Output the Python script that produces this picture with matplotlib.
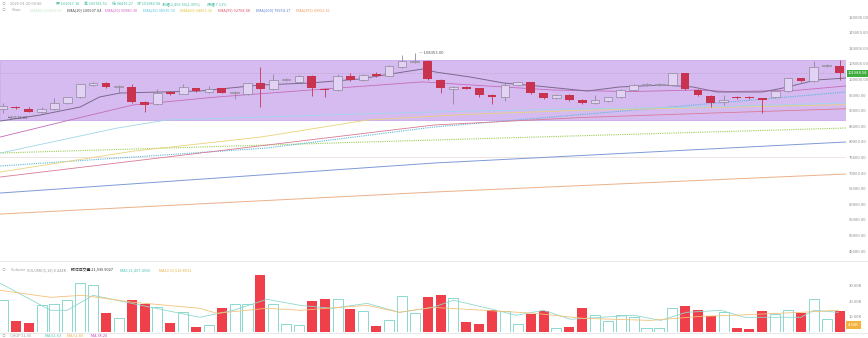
import matplotlib
matplotlib.use("Agg")
import matplotlib.pyplot as plt
from matplotlib.patches import Rectangle
from matplotlib.lines import Line2D

plt.rcParams['font.family'] = ['Noto Sans CJK SC', 'DejaVu Sans']

# Daily candles (66)
opens = [90514, 91250, 90600, 89650, 90400, 92350, 94250, 98200, 98950, 97450,
         97660, 92850, 92020, 95960, 95420, 97150, 96060, 97150, 95550, 95230,
         98760, 96830, 99810, 99070, 101190, 97020, 96600, 101090, 99810, 101630,
         101190, 103880, 105600, 105900, 99810, 96920, 97660, 97150, 95000, 94470,
         98210, 99070, 95550, 93940, 95000, 93400, 92530, 93180, 94260, 96600,
         98210, 98210, 98210, 101950, 96600, 94790, 92870, 94470, 94400, 93940,
         94470, 96380, 100350, 99590, 104290, 104300]
highs = [92437, 91400, 91000, 91060, 94000, 94500, 98600, 99300, 99100, 98200,
         98530, 93000, 96990, 96200, 98530, 97400, 97800, 97400, 96300, 99000,
         104070, 101730, 100500, 101400, 101500, 97300, 101730, 101940, 101600, 102370,
         104700, 107800, 108353, 106200, 100030, 97900, 97900, 97400, 95300, 99270,
         99300, 99300, 95800, 95300, 95300, 93600, 95000, 94500, 96900, 98500,
         98700, 98700, 102200, 102200, 96800, 95000, 95000, 94700, 94600, 94200,
         96600, 100600, 100600, 105800, 104900, 106200]
lows = [89118, 90500, 89400, 89200, 90200, 92100, 94000, 97900, 97300, 95600,
        92500, 89600, 91800, 95100, 95200, 96100, 95800, 95500, 93880, 95000,
        91250, 96600, 99600, 98900, 94680, 94460, 96400, 99600, 99500, 100800,
        101000, 103600, 105300, 99800, 95640, 92120, 96800, 94470, 92120, 93080,
        98000, 95300, 93700, 93700, 93100, 92000, 92200, 92900, 94000, 96300,
        98000, 97900, 98000, 96600, 94800, 91250, 91800, 93800, 93700, 89300,
        94200, 96100, 99300, 99300, 104000, 99810]
closes = [91475, 90750, 89650, 90400, 92350, 94250, 98430, 98950, 97450, 97980,
          92660, 91800, 95740, 95320, 97470, 96380, 97020, 95740, 96060, 98760,
          96830, 99810, 100260, 101190, 97150, 96600, 101090, 99810, 101310, 101090,
          104390, 105990, 105900, 100030, 97340, 97660, 97020, 95000, 94470, 98210,
          99070, 95550, 93940, 95000, 93400, 92340, 93400, 94260, 96600, 98210,
          98430, 98500, 101950, 96830, 95000, 92340, 93400, 94000, 93900, 93400,
          96380, 100350, 99590, 103870, 104600, 101984.58]
# volume in thousands
volumes = [20.9, 6.9, 6.0, 17.7, 18.3, 20.9, 31.9, 30.6, 12.3, 9.1,
           20.9, 18.3, 16.1, 5.8, 12.9, 3.2, 4.3, 15.7, 18.3, 17.9,
           37.0, 18.3, 5.0, 4.8, 20.2, 21.1, 21.5, 15.1, 13.6, 4.1,
           8.0, 23.0, 12.3, 22.6, 24.1, 22.2, 6.5, 5.0, 14.0, 13.6,
           5.4, 11.4, 13.4, 2.8, 3.2, 15.5, 10.8, 6.9, 11.2, 9.7,
           2.8, 2.4, 15.7, 17.0, 14.4, 10.1, 12.9, 2.6, 1.9, 13.4,
           11.4, 14.0, 12.5, 21.1, 8.2, 13.6]

# indicator lines (candle index, value)
ema_a_x = [-0.2, 2.9, 6, 7.5, 9.1, 15.3, 20, 23.9, 27.7, 30.6, 32.6, 33.7, 36.3, 38.9,
           41.5, 45.4, 47.9, 51.3, 53.6, 55.5, 59, 60.6, 63.2, 65.5]
ema_a_y = [86670, 88590, 91160, 94360, 95640, 96280, 98210, 98850, 100130, 102050, 103330,
           102300, 100770, 98850, 97890, 96280, 97570, 98210, 97570, 95960, 95960, 97240,
           99810, 100450]
ema_pink_x = [-0.2, 5.2, 10.1, 16.6, 23.9, 32.6, 37.6, 42.7, 48.7, 53.9, 56.5, 61.7, 65.5]
ema_pink_y = [81540, 86990, 91800, 94360, 96600, 99200, 97900, 96600, 96100, 96600, 96100,
              96500, 97900]
ema_cyan_x = [-0.2, 8.9, 12.7, 17.9, 25, 33.4, 44, 54.2, 65.5]
ema_cyan_y = [76410, 84420, 86990, 87630, 88600, 89550, 90500, 91160, 92440]
ema_yellow_x = [-0.2, 10.1, 20, 28.3, 36, 45, 55, 65.5]
ema_yellow_y = [70320, 77000, 81500, 86990, 88800, 90100, 91000, 91900]
ema_red_x = [-0.2, 33.5, 45, 55, 65.5]
ema_red_y = [68720, 85390, 87800, 89200, 90600]
dot_cyan_x = [-0.2, 20.5, 33.5, 39.9, 52, 65.5]
dot_cyan_y = [72250, 78010, 84750, 86990, 91200, 95960]
dot_green_x = [-0.2, 33.5, 65.5]
dot_green_y = [76410, 80580, 84420]
ema200_x = [-0.2, 33.5, 65.5]
ema200_y = [63590, 73200, 79940]
ema365_x = [-0.2, 33.5, 65.5]
ema365_y = [56860, 63910, 69680]

vma5_x = [-0.2, 3.7, 5, 7, 10.1, 15.3, 17.9, 20.5, 23.1, 25.6, 28.3, 30.8, 33.4, 35, 37.4,
          39.9, 42, 44.1, 46.5, 49, 51.1, 53.1, 55.8, 57.6, 59.9, 62, 63, 64.9]
vma5_y = [31.4, 14.0, 14.0, 23.7, 18.3, 9.5, 14.0, 21.1, 17.2, 15.3, 18.5, 12.7, 15.9, 20.5,
          15.9, 10.8, 14.0, 8.2, 9.5, 10.8, 7.5, 12.7, 14.0, 9.5, 9.5, 9.5, 14.0, 12.7]
vma10_x = [-0.2, 3.7, 6.2, 10.1, 15.3, 16.6, 20.5, 23.1, 28.3, 30.8, 33.4, 37.4, 41.3, 45.1,
           50.3, 54.2, 56.8, 62, 64.9]
vma10_y = [26.9, 22.4, 23.7, 19.2, 15.3, 12.1, 15.3, 14.0, 17.2, 12.7, 15.9, 14.0, 12.1, 8.8,
           7.5, 10.1, 10.8, 12.7, 14.0]

box_low, box_high = 86988, 106218
price_ticks = list(range(45000, 120001, 5000))
vol_ticks = [10, 20, 30]

W, H = 868, 338
def rect(left, top, w, h):
    return [left / W, 1 - (top + h) / H, w / W, h / H]

fig = plt.figure(figsize=(W / 100, H / 100), dpi=100)
xlim = (-0.23, 65.5)
n = len(closes)
xs = list(range(n))
red = '#c8334f'

# price pane
ax = fig.add_axes(rect(0, 0, 846, 258))
ax.set_xlim(*xlim)
ax.set_ylim(42760, 125450)
ax.add_patch(Rectangle((xlim[0], box_low), xlim[1] - xlim[0], box_high - box_low,
                       facecolor='#d6bbf1', edgecolor='#c8a8ec', lw=0.6, zorder=0))
ax.axhline(75000, color='#ecdede', lw=0.6, zorder=0.5)

ax.plot(ema365_x, ema365_y, color='#eab08a', lw=0.7)
ax.plot(ema200_x, ema200_y, color='#7d9ad8', lw=0.7)
ax.plot(dot_green_x, dot_green_y, color='#9ccc55', lw=0.8, ls=(0, (1, 1)))
ax.plot(dot_cyan_x, dot_cyan_y, color='#58b8d8', lw=0.8, ls=(0, (1, 1)))
ax.plot(ema_red_x, ema_red_y, color='#d97a95', lw=0.6)
ax.plot(ema_yellow_x, ema_yellow_y, color='#ead27a', lw=0.6)
ax.plot(ema_cyan_x, ema_cyan_y, color='#9fd6ea', lw=0.6)
ax.plot(ema_pink_x, ema_pink_y, color='#c56bb9', lw=0.6)
ax.plot(ema_a_x, ema_a_y, color='#7a6a8c', lw=0.7)

ax.axhline(closes[-1], color='#b9a3c8', lw=0.5, ls=(0, (2, 2)), zorder=1)

for i in xs:
    o, h, l, c = opens[i], highs[i], lows[i], closes[i]
    up = c >= o
    wick = '#8d8898' if up else red
    ax.vlines(i, l, h, color=wick, lw=0.6, zorder=3)
    bot, top = min(o, c), max(o, c)
    hgt = max(top - bot, 120)
    if up:
        ax.bar(i, hgt, bottom=bot, width=0.68, facecolor='#e2d3f5', edgecolor='#8d8898',
               lw=0.5, zorder=4)
    else:
        ax.bar(i, hgt, bottom=bot, width=0.68, color=red, lw=0, zorder=4)

ihi = highs.index(max(highs))
ax.text(ihi + 0.3, max(highs), '— %.2f' % max(highs), fontsize=3, color='#555',
        va='center', ha='left')
ilo = lows.index(min(lows))
ax.text(ilo + 0.2, min(lows) - 700, '└%.2f' % min(lows), fontsize=3, color='#555',
        va='top', ha='left')

ax.yaxis.tick_right()
ax.set_yticks(price_ticks)
ax.set_yticklabels(['%.2f' % v for v in price_ticks])
ax.tick_params(axis='y', length=0, labelsize=3, labelcolor='#8a8a8a', pad=2)
ax.set_xticks([])
for s in ax.spines.values():
    s.set_visible(False)
ax.annotate('%.2f' % closes[-1], xy=(1.0, closes[-1]), xycoords=('axes fraction', 'data'),
            xytext=(1.5, 0), textcoords='offset points', fontsize=3, color='white',
            va='center', ha='left',
            bbox=dict(boxstyle='square,pad=0.35', fc='#3fae3f', ec='none'))

# volume pane
av = fig.add_axes(rect(0, 262, 846, 70))
av.set_xlim(*xlim)
av.set_ylim(0, 45.2)
for i in xs:
    if closes[i] >= opens[i]:
        av.bar(i, volumes[i], width=0.78, facecolor='white', edgecolor='#78d2c8', lw=0.6)
    else:
        av.bar(i, volumes[i], width=0.78, color='#ee3f4b', lw=0)
av.plot(vma5_x, vma5_y, color='#8fd8cf', lw=0.6)
av.plot(vma10_x, vma10_y, color='#f2c27a', lw=0.6)
av.yaxis.tick_right()
av.set_yticks(vol_ticks)
av.set_yticklabels(['%.2fK' % v for v in vol_ticks])
av.tick_params(axis='y', length=0, labelsize=3, labelcolor='#8a8a8a', pad=2)
av.set_xticks([])
for s in av.spines.values():
    s.set_visible(False)
av.annotate('4.32K', xy=(1.0, 4.3), xycoords=('axes fraction', 'data'),
            xytext=(1.5, 0), textcoords='offset points', fontsize=3, color='white',
            va='center', ha='left',
            bbox=dict(boxstyle='square,pad=0.5', fc='#f3b23c', ec='none'))

# separators
for yy in [261, 332.5]:
    fig.add_artist(Line2D([0, 1], [1 - yy / H, 1 - yy / H], color='#e4e4e4', lw=0.6))

def ftxt(x, y, s, color, size=3, **kw):
    fig.text(x / W, 1 - y / H, s, fontsize=size, color=color, va='center', ha='left', **kw)

# header rows
ftxt(2, 4, '⊙', '#aaa')
ftxt(10, 4, '2025-01-20 00:00', '#999', 2.8)
row1 = [(56, '开 102017.18'), (84, '高 105781.51'), (112, '低 98415.27'), (137, '收 101984.58'),
        (162, '涨幅 2,469.56(2.39%)'), (207, '振幅 7.11%')]
for x, s in row1:
    ftxt(x, 4, s, '#45bfa2', 2.8)
ftxt(2, 10, '⊙', '#aaa')
ftxt(12, 10, 'Chan', '#999', 2.8)
row2 = [(30, 'EMA(5) 101823.67', '#c5e6c5'), (67, 'EMA(10) 100907.04', '#444'),
        (105, 'EMA(20) 99980.30', '#d063c0'), (143, 'EMA(30) 98935.30', '#5ec3e0'),
        (180, 'EMA(60) 94455.32', '#e0c23a'), (218, 'EMA(99) 92708.08', '#e0506a'),
        (256, 'EMA(200) 79954.17', '#5b7fd0'), (296, 'EMA(365) 69952.61', '#eb9a5e')]
for x, s, c in row2:
    ftxt(x, 10, s, c, 2.8)

ftxt(2, 270, '⊙', '#aaa')
ftxt(11, 270, 'Volume', '#999', 2.8)
ftxt(27, 270, 'VOLUME(5,10) 8.444K', '#999', 2.8)
ftxt(71, 270, '预估成交量 21,939.9027', '#333', 2.8)
ftxt(120, 270, 'MA5 11,407.4596', '#4cc2b4', 2.8)
ftxt(159, 270, 'MA10 15,519.8931', '#e8b040', 2.8)

ftxt(2, 336, '⊙', '#aaa')
ftxt(10, 336, 'CHOP 11.66', '#999', 2.8)
ftxt(45, 336, 'MA 51.63', '#4cc2b4', 2.8)
ftxt(67, 336, 'MA 61.80', '#e8b040', 2.8)
ftxt(91, 336, 'MA 38.20', '#c040c0', 2.8)

fig.savefig('out.png', dpi=100, facecolor='white')
